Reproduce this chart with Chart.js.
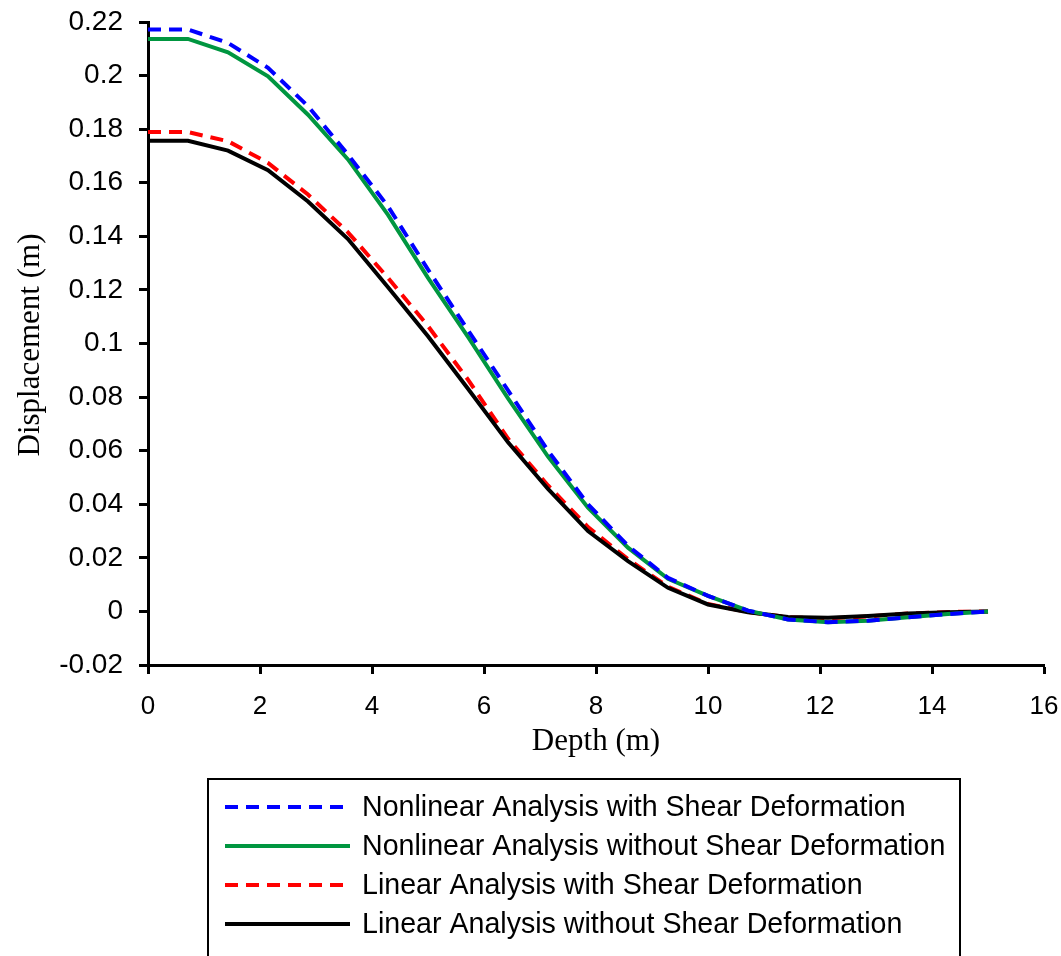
<!DOCTYPE html>
<html>
<head>
<meta charset="utf-8">
<script src="https://cdn.jsdelivr.net/npm/chart.js@4/dist/chart.umd.min.js"></script>
<style>
  html, body { margin: 0; padding: 0; background: #ffffff; }
  #wrap { width: 1061px; height: 956px; }
</style>
</head>
<body>
<div id="wrap"><canvas id="c" width="1061" height="956"></canvas></div>
<script>
// ---- data ----
const depth = [0, 0.714, 1.429, 2.143, 2.857, 3.571, 4.286, 5, 5.714, 6.429, 7.143,
               7.857, 8.571, 9.286, 10, 10.714, 11.429, 12.143, 12.857, 13.571, 14.286, 15];

const nonlinearWithShear = [0.2172, 0.2172, 0.2122, 0.2029, 0.1886, 0.1705, 0.1512, 0.1276, 0.1050, 0.0825, 0.0600,
                            0.0400, 0.0245, 0.0125, 0.0058, 0.0003, -0.0030, -0.0040, -0.0035, -0.0022, -0.0010, 0];
const nonlinearWithoutShear = [0.2137, 0.2137, 0.2087, 0.1997, 0.1854, 0.1687, 0.1480, 0.1245, 0.1025, 0.0795, 0.0578,
                               0.0387, 0.0238, 0.0122, 0.0058, 0.0003, -0.0030, -0.0040, -0.0035, -0.0022, -0.0010, 0];
const linearWithShear = [0.1789, 0.1789, 0.1755, 0.1674, 0.1556, 0.1415, 0.1245, 0.1065, 0.0865, 0.0645, 0.0470,
                         0.0315, 0.0195, 0.0092, 0.0028, -0.0002, -0.0022, -0.0026, -0.0019, -0.0008, -0.0002, 0];
const linearWithoutShear = [0.1757, 0.1757, 0.1720, 0.1647, 0.1530, 0.1390, 0.1210, 0.1027, 0.0831, 0.0631, 0.0457,
                            0.0300, 0.0188, 0.0088, 0.0026, -0.0003, -0.0021, -0.0024, -0.0017, -0.0008, -0.0003, 0];

const seriesNames = [
  'Nonlinear Analysis with Shear Deformation',
  'Nonlinear Analysis without Shear Deformation',
  'Linear Analysis with Shear Deformation',
  'Linear Analysis without Shear Deformation'
];

const xTitle = 'Depth (m)';
const yTitle = 'Displacement (m)';
const xMin = 0, xMax = 16, xStep = 2;
const yMin = -0.02, yMax = 0.22, yStep = 0.02;

function pts(arr) { return arr.map((v, i) => ({ x: depth[i], y: v })); }

const SANS = '"Liberation Sans", Arial, sans-serif';
const SERIF = '"Liberation Serif", "Times New Roman", serif';

// custom boxed legend + axis titles
const decorPlugin = {
  id: 'decor',
  afterDraw(chart) {
    const ctx = chart.ctx;
    const ca = chart.chartArea;
    ctx.save();
    // axis titles
    ctx.fillStyle = '#000';
    ctx.font = '31px ' + SERIF;
    ctx.textAlign = 'center';
    ctx.textBaseline = 'middle';
    ctx.fillText(xTitle, (ca.left + ca.right) / 2, 742);
    ctx.save();
    ctx.translate(31, 345);
    ctx.rotate(-Math.PI / 2);
    ctx.fillText(yTitle, 0, 0);
    ctx.restore();

    // legend box
    ctx.lineWidth = 2;
    ctx.strokeStyle = '#000';
    ctx.strokeRect(208, 779, 752, 200);
    const rowsY = [807, 846, 885, 924];
    ctx.font = '28.6px ' + SANS;
    ctx.textAlign = 'left';
    ctx.textBaseline = 'middle';
    chart.data.datasets.forEach((ds, i) => {
      const y = rowsY[i];
      ctx.beginPath();
      ctx.setLineDash(ds.borderDash || []);
      ctx.strokeStyle = ds.borderColor;
      ctx.lineWidth = ds.borderWidth;
      ctx.moveTo(225, y);
      ctx.lineTo(350, y);
      ctx.stroke();
      ctx.setLineDash([]);
      ctx.fillStyle = '#000';
      ctx.fillText(ds.label, 362, y + 1);
    });
    ctx.restore();
  }
};

new Chart(document.getElementById('c'), {
  type: 'line',
  data: {
    datasets: [
      { label: seriesNames[0], data: pts(nonlinearWithShear), borderColor: '#0000FF', borderWidth: 4, borderDash: [13, 8], order: 0 },
      { label: seriesNames[1], data: pts(nonlinearWithoutShear), borderColor: '#009640', borderWidth: 4, order: 1 },
      { label: seriesNames[2], data: pts(linearWithShear), borderColor: '#FF0000', borderWidth: 4, borderDash: [13, 8], order: 3 },
      { label: seriesNames[3], data: pts(linearWithoutShear), borderColor: '#000000', borderWidth: 4, order: 2 }
    ]
  },
  options: {
    responsive: false,
    animation: false,
    parsing: true,
    elements: { point: { radius: 0 }, line: { tension: 0, fill: false } },
    layout: { padding: { left: 0, top: 22, right: 17, bottom: 231 }, autoPadding: false },
    plugins: { legend: { display: false }, tooltip: { enabled: false } },
    scales: {
      x: {
        type: 'linear', min: xMin, max: xMax,
        afterFit(s) { s.height = 60; s.paddingRight = 0; s.paddingLeft = 0; },
        ticks: { stepSize: xStep, color: '#000', font: { family: SANS, size: 26 }, padding: 17, maxRotation: 0 },
        grid: { drawOnChartArea: false, drawTicks: true, tickLength: 9, tickWidth: 3, tickColor: '#000' },
        border: { display: true, color: '#000', width: 3 }
      },
      y: {
        type: 'linear', min: yMin, max: yMax,
        afterFit(s) { s.width = 148; s.paddingTop = 0; s.paddingBottom = 0; },
        ticks: {
          stepSize: yStep, color: '#000', font: { family: SANS, size: 28 }, padding: 16,
          callback: v => String(parseFloat(v.toFixed(2)))
        },
        grid: { drawOnChartArea: false, drawTicks: true, tickLength: 9, tickWidth: 3, tickColor: '#000' },
        border: { display: true, color: '#000', width: 3 }
      }
    }
  },
  plugins: [decorPlugin]
});
</script>
</body>
</html>
